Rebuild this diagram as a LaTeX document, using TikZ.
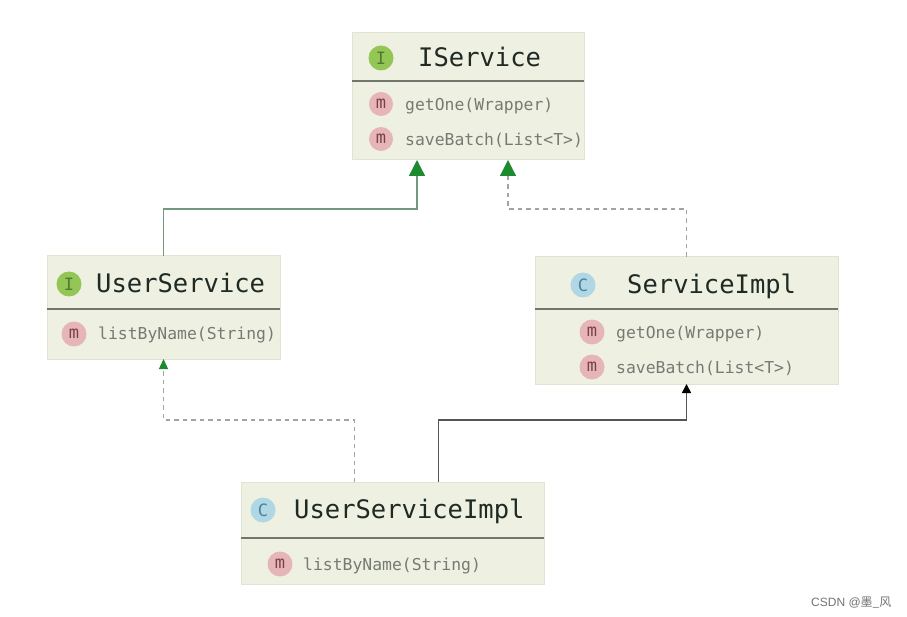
\documentclass[tikz,border=0pt]{standalone}
\usepackage{fontspec}
\setmonofont{DejaVu Sans Mono}
\newfontfamily\cjkmark{Noto Sans CJK SC}
\newfontfamily\markfont{Liberation Sans}
\usetikzlibrary{arrows.meta,calc}
\definecolor{boxfill}{HTML}{EEF0E1}
\definecolor{boxedge}{HTML}{E0E4D2}
\definecolor{sepcol}{HTML}{71756D}
\definecolor{titlecol}{HTML}{1F2A24}
\definecolor{methcol}{HTML}{767A74}
\definecolor{igreen}{HTML}{93C655}
\definecolor{igreentx}{HTML}{4E7A32}
\definecolor{cblue}{HTML}{AFD7E5}
\definecolor{cbluetx}{HTML}{4F8295}
\definecolor{mpink}{HTML}{E6B5B8}
\definecolor{mpinktx}{HTML}{7A4046}
\definecolor{arrowgreen}{HTML}{1E8A30}
\definecolor{greenline}{HTML}{6F9A7C}
\definecolor{dashcol}{HTML}{A3A3A3}
\definecolor{darkline}{HTML}{555555}
\tikzset{
  x=1pt,y=-1pt,
  classbox/.style={draw=boxedge,fill=boxfill,line width=1pt,rectangle,inner sep=0pt,outer sep=0pt},
  sepline/.style={draw=sepcol,line width=2.6pt},
  titletext/.style={anchor=base west,inner sep=0pt,text=titlecol,font=\ttfamily\fontsize{25.5}{28}\selectfont},
  methtext/.style={anchor=base west,inner sep=0pt,text=methcol,font=\ttfamily\fontsize{16.4}{19}\selectfont},
  icon/.style={circle,inner sep=0pt,minimum size=25pt,font=\ttfamily\fontsize{17}{19}\selectfont},
  iicon/.style={icon,fill=igreen,text=igreentx},
  cicon/.style={icon,fill=cblue,text=cbluetx},
  micon/.style={icon,fill=mpink,text=mpinktx},
  greentip/.style={-{Triangle[length=16pt,width=16pt,color=arrowgreen,fill=arrowgreen]}},
  smalltip/.style={-{Triangle[length=10pt,width=9pt,color=arrowgreen,fill=arrowgreen]}},
  blacktip/.style={-{Triangle[length=9pt,width=9pt,color=black,fill=black]}},
  solidgreen/.style={draw=greenline,line width=1.3pt},
  dashconn/.style={draw=dashcol,line width=1.2pt,dash pattern=on 4.5pt off 4pt},
  solidblack/.style={draw=darkline,line width=1.6pt},
}
\begin{document}
\begin{tikzpicture}
\useasboundingbox (0,0) rectangle (907,617);
\fill[white] (0,0) rectangle (907,617);

% boxes
\node[classbox,minimum width=232pt,minimum height=127pt] (iservice) at (468,96.5) {};
\node[classbox,minimum width=233pt,minimum height=103pt] (userservice) at (163.5,307.5) {};
\node[classbox,minimum width=303pt,minimum height=127pt] (serviceimpl) at (686.5,320.5) {};
\node[classbox,minimum width=303pt,minimum height=102pt] (usi) at (392.5,533) {};

% separators
\coordinate (sepa) at (0,81);
\coordinate (sepb) at (0,309);
\coordinate (sepc) at (0,309);
\coordinate (sepd) at (0,538);
\draw[sepline] (iservice.west |- sepa) -- (iservice.east |- sepa);
\draw[sepline] (userservice.west |- sepb) -- (userservice.east |- sepb);
\draw[sepline] (serviceimpl.west |- sepc) -- (serviceimpl.east |- sepc);
\draw[sepline] (usi.west |- sepd) -- (usi.east |- sepd);

% icons
\node[iicon] (ia) at (381,58) {I};
\node[micon,minimum size=24pt] (ma) at (381,104) {m};
\node[micon,minimum size=24pt] (mb) at (381,139) {m};
\node[iicon] (ib) at (69,284) {I};
\node[micon] (mc) at (74,334) {m};
\node[cicon] (ca) at (583,285) {C};
\node[micon] (md) at (592,332) {m};
\node[micon] (me) at (592,367) {m};
\node[cicon] (cb) at (263,510) {C};
\node[micon] (mf) at (280,564) {m};

% titles
\node[titletext] (ta) at (418,67) {IService};
\node[titletext] (tb) at (96,293) {UserService};
\node[titletext] (tc) at (627,294) {ServiceImpl};
\node[titletext] (td) at (294,518) {UserServiceImpl};

% methods
\node[methtext] (a1) at (405,110.5) {getOne(Wrapper)};
\node[methtext] (a2) at (405,145.5) {saveBatch(List<T>)};
\node[methtext] (b1) at (98,340) {listByName(String)};
\node[methtext] (c1) at (616,338) {getOne(Wrapper)};
\node[methtext] (c2) at (616,373) {saveBatch(List<T>)};
\node[methtext] (d1) at (303,570) {listByName(String)};

% connector routes
\coordinate (upper) at (0,209);
\coordinate (lower) at (0,420);
\coordinate (ia1) at ([xshift=-51pt]iservice.south);
\coordinate (ia2) at ([xshift=40pt]iservice.south);
\coordinate (ub1) at ([xshift=-38pt]usi.north);
\coordinate (ub2) at ([xshift=46pt]usi.north);
\draw[solidgreen,greentip] (userservice.north) -- (userservice.north |- upper) -- (ia1 |- upper) -- (ia1);
\draw[dashconn,greentip] (serviceimpl.north) -- (serviceimpl.north |- upper) -- (ia2 |- upper) -- (ia2);
\draw[dashconn,smalltip] (ub1) -- (ub1 |- lower) -- (userservice.south |- lower) -- (userservice.south);
\draw[solidblack,blacktip] (ub2) -- (ub2 |- lower) -- (serviceimpl.south |- lower) -- (serviceimpl.south);

% watermark
\node[anchor=base west,inner sep=0pt,text=black!55,font=\markfont\fontsize{12}{14}\selectfont] (wm) at (811,606) {CSDN @{\cjkmark 墨\_风}};
\end{tikzpicture}
\end{document}
